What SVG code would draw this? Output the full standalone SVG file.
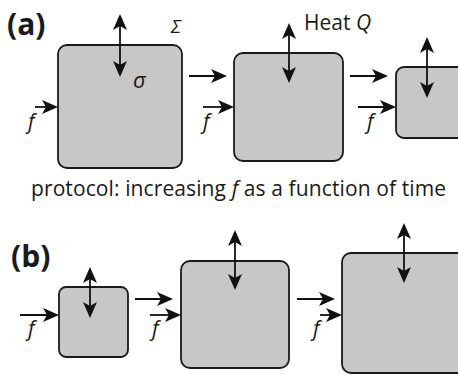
<svg xmlns="http://www.w3.org/2000/svg" width="458" height="375" viewBox="0 0 458 375">
<style>
.box{fill:#c6c7c6;stroke:#1a1a1a;stroke-width:1.8}
.con{fill:none;stroke:#111;stroke-width:1.8;marker-end:url(#ah)}
.dbl{marker-start:url(#ah)}
.t{font-family:"Open Sans","Liberation Sans",sans-serif;fill:#1a1a1a}
.i{font-style:italic}
.lab{font-family:"Open Sans","Liberation Sans",sans-serif;font-weight:bold;font-size:30px;fill:#1a1a1a}
</style>
<defs>
<marker id="ah" viewBox="-17 -8 18 16" refX="-3" refY="0" markerWidth="18" markerHeight="16" markerUnits="userSpaceOnUse" orient="auto-start-reverse">
<path d="M0,0 L-16,-7 L-12,0 L-16,7 Z" fill="#111"/>
</marker>
</defs>
<text class="lab" x="7" y="35">(a)</text>
<text class="lab" x="11" y="267">(b)</text>
<g id="a1"><rect class="box" x="58" y="45" width="124" height="123" rx="9"/></g>
<g id="a2"><rect class="box" x="234" y="53" width="109" height="108" rx="9"/></g>
<g id="a3"><rect class="box" x="396" y="67" width="90" height="71" rx="8"/></g>
<g id="b1"><rect class="box" x="59" y="287" width="69" height="70" rx="7"/></g>
<g id="b2"><rect class="box" x="181" y="261" width="108" height="107" rx="9"/></g>
<g id="b3"><rect class="box" x="342" y="253" width="140" height="120" rx="9"/></g>
<g id="connectors">
<path class="con" d="M189,76 H224"/>
<path class="con" d="M350,76 H385"/>
<path class="con" d="M35,107 H55"/>
<path class="con" d="M203,107 H231"/>
<path class="con" d="M358,107 H393"/>
<path class="con dbl" d="M120,17 V74"/>
<path class="con dbl" d="M289,26 V80"/>
<path class="con dbl" d="M427,40 V95"/>
<path class="con" d="M135,299 H170"/>
<path class="con" d="M297,299 H332"/>
<path class="con" d="M20,315 H56"/>
<path class="con" d="M150,315 H178"/>
<path class="con" d="M320,315 H339"/>
<path class="con dbl" d="M90,270 V315"/>
<path class="con dbl" d="M235,233 V287"/>
<path class="con dbl" d="M404,226 V280"/>
</g>
<g id="labels">
<text class="t i" x="171" y="33" font-size="19">Σ</text>
<text class="t i" x="133" y="88" font-size="22">σ</text>
<text class="t" x="304" y="30" font-size="21">Heat <tspan class="i">Q</tspan></text>
<text class="t" x="31" y="196" font-size="21" textLength="415" lengthAdjust="spacing">protocol: increasing <tspan class="i">f</tspan> as a function of time</text>
<text class="t i" x="28" y="129" font-size="21">f</text>
<text class="t i" x="203" y="129" font-size="21">f</text>
<text class="t i" x="367" y="129" font-size="21">f</text>
<text class="t i" x="28" y="336" font-size="21">f</text>
<text class="t i" x="152" y="336" font-size="21">f</text>
<text class="t i" x="313" y="336" font-size="21">f</text>
</g>
</svg>
